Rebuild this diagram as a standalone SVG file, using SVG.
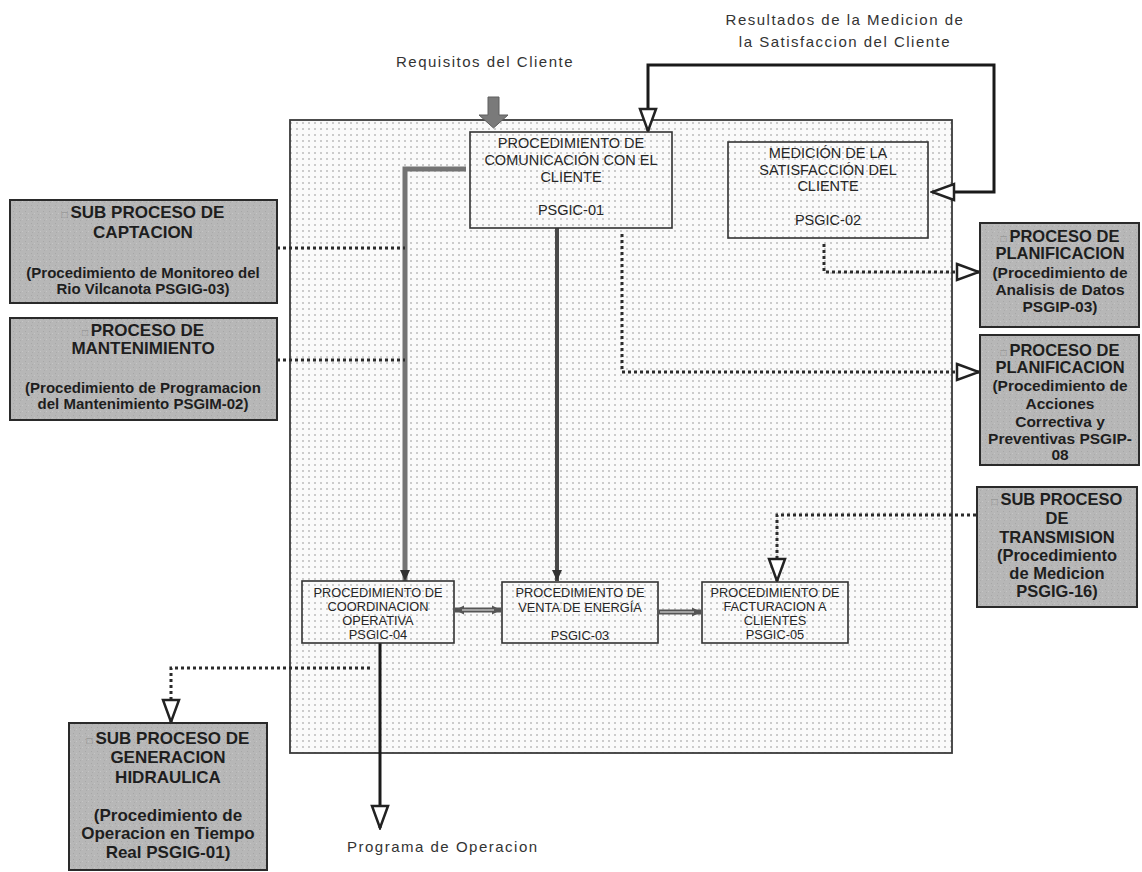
<svg xmlns="http://www.w3.org/2000/svg" width="1142" height="872" viewBox="0 0 1142 872">
<style>
text{font-family:"Liberation Sans",Arial,sans-serif;fill:#262626}
.lbl{font-size:15px;letter-spacing:1.5px;fill:#333}
.bt{font-size:14.5px;text-anchor:middle}
.bs{font-size:12.8px;text-anchor:middle}
.gt{font-size:17px;font-weight:bold;text-anchor:middle;fill:#1e1e1e}
.gs{font-size:15px;font-weight:bold;text-anchor:middle;fill:#1e1e1e}
.rt{font-size:16.5px;font-weight:bold;text-anchor:middle;fill:#1e1e1e}
.rs{font-size:15.5px;font-weight:bold;text-anchor:middle;fill:#1e1e1e}
.gb{font-size:10px;fill:#8a8a8a;font-weight:normal}
.gray{fill:url(#gtex);stroke:#2a2a2a;stroke-width:2}
.wbox{fill:url(#dots);stroke:#333;stroke-width:1.6}
.dot{fill:none;stroke:#2b2b2b;stroke-width:3;stroke-dasharray:3 3}
</style>
<defs>
<pattern id="dots" width="6" height="6" patternUnits="userSpaceOnUse">
<rect width="6" height="6" fill="#fafafa"/>
<circle cx="3" cy="3" r="0.8" fill="#8f8f8f"/>
</pattern>
<pattern id="gtex" width="6" height="6" patternUnits="userSpaceOnUse">
<rect width="6" height="6" fill="#b7b7b7"/>
<rect x="1" y="1" width="1" height="1" fill="#a6a6a6"/>
<rect x="4" y="3" width="1" height="1" fill="#c6c6c6"/>
<rect x="2" y="4" width="1" height="1" fill="#aaaaaa"/>
</pattern>
<marker id="hollow" viewBox="-2 -10 26 20" refX="22" refY="0" markerWidth="26" markerHeight="20" orient="auto-start-reverse" markerUnits="userSpaceOnUse">
<path d="M0,-8 L22,0 L0,8 Z" fill="#fff" stroke="#222" stroke-width="2.5"/>
</marker>
<marker id="solid" viewBox="0 -6 12 12" refX="11" refY="0" markerWidth="12" markerHeight="12" orient="auto-start-reverse" markerUnits="userSpaceOnUse">
<path d="M0,-5 L11,0 L0,5 Z" fill="#333"/>
</marker>
<marker id="small" viewBox="0 -5 10 10" refX="9" refY="0" markerWidth="10" markerHeight="10" orient="auto-start-reverse" markerUnits="userSpaceOnUse">
<path d="M0,-4.5 L9,0 L0,4.5 Z" fill="#555"/>
</marker>
</defs>
<rect width="1142" height="872" fill="#fff"/>

<g id="panel">
<rect x="290" y="120" width="662" height="633" fill="url(#dots)" stroke="#3a3a3a" stroke-width="1.8"/>
</g>

<g id="labels">
<text class="lbl" x="485" y="67" text-anchor="middle">Requisitos del Cliente</text>
<text class="lbl" x="845" y="25" text-anchor="middle">Resultados de la Medicion de</text>
<text class="lbl" x="845" y="47" text-anchor="middle">la Satisfaccion del Cliente</text>
<text class="lbl" x="347" y="852">Programa de Operacion</text>
</g>

<g id="connectors">
<polygon points="488,97 499,97 499,115 508,115 493.5,128 479,115 488,115" fill="#7a7a7a" stroke="#5e5e5e" stroke-width="1"/>
<path d="M932,192 L994,192 L994,65 L648,65 L648,131" fill="none" stroke="#1a1a1a" stroke-width="3" marker-start="url(#hollow)" marker-end="url(#hollow)"/>
<path d="M466,169 L405,169 L405,581" fill="none" stroke="#737373" stroke-width="5" marker-end="url(#solid)"/>
<path d="M557,228 L557,581" fill="none" stroke="#4a4a4a" stroke-width="4" marker-end="url(#solid)"/>
<path d="M455,610 L501,610" fill="none" stroke="#555" stroke-width="5" marker-start="url(#small)" marker-end="url(#small)"/>
<path d="M462,610 L494,610" fill="none" stroke="#bbb" stroke-width="1.5"/>
<path d="M659,612 L701,612" fill="none" stroke="#555" stroke-width="5" marker-end="url(#small)"/>
<path d="M660,612 L694,612" fill="none" stroke="#bbb" stroke-width="1.5"/>
<path d="M380,643 L380,828" fill="none" stroke="#1a1a1a" stroke-width="3" marker-end="url(#hollow)"/>
<path class="dot" d="M277,248 L405,248"/>
<path class="dot" d="M277,360 L405,360"/>
<path class="dot" d="M622,234 L622,372 L979,372" marker-end="url(#hollow)"/>
<path class="dot" d="M824,244 L824,272 L979,272" marker-end="url(#hollow)"/>
<path class="dot" d="M976,515 L777,515 L777,581" marker-end="url(#hollow)"/>
<path class="dot" d="M370,668 L171,668 L171,722" marker-end="url(#hollow)"/>
</g>

<g id="psgic01">
<rect class="wbox" x="470" y="132" width="202" height="96"/>
<text class="bt" x="571" y="148">PROCEDIMIENTO DE</text>
<text class="bt" x="571" y="165">COMUNICACIÓN CON EL</text>
<text class="bt" x="571" y="182">CLIENTE</text>
<text class="bt" x="571" y="215">PSGIC-01</text>
</g>

<g id="psgic02">
<rect class="wbox" x="728" y="142" width="200" height="96"/>
<text class="bt" x="828" y="158">MEDICIÓN DE LA</text>
<text class="bt" x="828" y="175">SATISFACCIÓN DEL</text>
<text class="bt" x="828" y="191">CLIENTE</text>
<text class="bt" x="828" y="225">PSGIC-02</text>
</g>

<g id="psgic04">
<rect class="wbox" x="302" y="581" width="152" height="62"/>
<text class="bs" x="378" y="596.5">PROCEDIMIENTO DE</text>
<text class="bs" x="378" y="610.5">COORDINACION</text>
<text class="bs" x="378" y="624.5">OPERATIVA</text>
<text class="bs" x="378" y="638.5">PSGIC-04</text>
</g>

<g id="psgic03">
<rect class="wbox" x="502" y="582" width="156" height="61"/>
<text class="bs" x="580" y="596.5">PROCEDIMIENTO DE</text>
<text class="bs" x="580" y="611.5">VENTA DE ENERGÍA</text>
<text class="bs" x="580" y="639.5">PSGIC-03</text>
</g>

<g id="psgic05">
<rect class="wbox" x="702" y="582" width="146" height="61"/>
<text class="bs" x="775" y="596.5">PROCEDIMIENTO DE</text>
<text class="bs" x="775" y="610.5">FACTURACION A</text>
<text class="bs" x="775" y="624.5">CLIENTES</text>
<text class="bs" x="775" y="638.5">PSGIC-05</text>
</g>

<g id="captacion">
<rect class="gray" x="10" y="200" width="267" height="103"/>
<text class="gt" x="143" y="218"><tspan class="gb">□ </tspan>SUB PROCESO DE</text>
<text class="gt" x="143" y="238">CAPTACION</text>
<text class="gs" x="143" y="277.5">(Procedimiento de Monitoreo del</text>
<text class="gs" x="143" y="293.5">Rio Vilcanota  PSGIG-03)</text>
</g>

<g id="mantenimiento">
<rect class="gray" x="10" y="318" width="267" height="102"/>
<text class="gt" x="143" y="336"><tspan class="gb">□ </tspan>PROCESO DE</text>
<text class="gt" x="143" y="354">MANTENIMIENTO</text>
<text class="gs" x="143" y="392.5">(Procedimiento de Programacion</text>
<text class="gs" x="143" y="408.5">del Mantenimiento PSGIM-02)</text>
</g>

<g id="generacion">
<rect class="gray" x="69" y="723" width="198" height="147"/>
<text class="gt" x="168" y="744"><tspan class="gb">□ </tspan>SUB PROCESO DE</text>
<text class="gt" x="168" y="763">GENERACION</text>
<text class="gt" x="168" y="783">HIDRAULICA</text>
<text class="gt" x="168" y="821">(Procedimiento de</text>
<text class="gt" x="168" y="839">Operacion en Tiempo</text>
<text class="gt" x="168" y="858">Real PSGIG-01)</text>
</g>

<g id="planificacion1">
<rect class="gray" x="980" y="223" width="159" height="104"/>
<text class="rt" x="1060" y="242"><tspan class="gb">□ </tspan>PROCESO DE</text>
<text class="rt" x="1060" y="259">PLANIFICACION</text>
<text class="rs" x="1060" y="277.5">(Procedimiento de</text>
<text class="rs" x="1060" y="294.5">Analisis de Datos</text>
<text class="rs" x="1060" y="311.5">PSGIP-03)</text>
</g>

<g id="planificacion2">
<rect class="gray" x="980" y="335" width="159" height="130"/>
<text class="rt" x="1060" y="356"><tspan class="gb">□ </tspan>PROCESO DE</text>
<text class="rt" x="1060" y="373">PLANIFICACION</text>
<text class="rs" x="1060" y="390.5">(Procedimiento de</text>
<text class="rs" x="1060" y="408.5">Acciones</text>
<text class="rs" x="1060" y="426.5">Correctiva y</text>
<text class="rs" x="1060" y="443.5">Preventivas PSGIP-</text>
<text class="rs" x="1060" y="459.5">08</text>
</g>

<g id="transmision">
<rect class="gray" x="977" y="487" width="160" height="120"/>
<text class="rt" x="1057" y="505"><tspan class="gb">□ </tspan>SUB PROCESO</text>
<text class="rt" x="1057" y="524">DE</text>
<text class="rt" x="1057" y="543">TRANSMISION</text>
<text class="rt" x="1057" y="561">(Procedimiento</text>
<text class="rt" x="1057" y="579">de Medicion</text>
<text class="rt" x="1057" y="597">PSGIG-16)</text>
</g>
</svg>
